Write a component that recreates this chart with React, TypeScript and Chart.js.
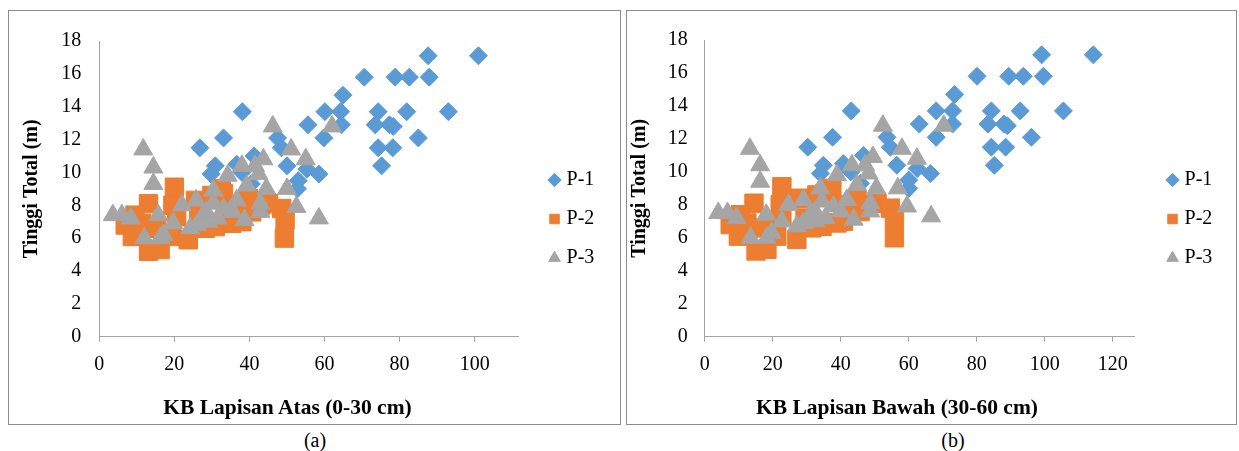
import React, { useEffect, useRef } from 'react';
import { Chart, registerables } from 'chart.js';

Chart.register(...registerables);

type Pt = [number, number];

// ---- data -----------------------------------------------------------
const SERIES_LABELS = ['P-1', 'P-2', 'P-3'];
const Y_TITLE = 'Tinggi Total (m)';
const X_TITLE_A = 'KB Lapisan Atas (0-30 cm)';
const X_TITLE_B = 'KB Lapisan Bawah (30-60 cm)';
const CAPTION_A = '(a)';
const CAPTION_B = '(b)';
const Y_MIN = 0;
const Y_MAX = 18;
const Y_STEP = 2;
const X_STEP = 20;
const XA_MAX = 111.6;
const XB_MAX = 126.5;

// Panel (a): KB Lapisan Atas vs Tinggi Total
const p1A: Pt[] = [
  [101.0, 17.1], [87.6, 17.1],
  [70.6, 15.8], [78.8, 15.8], [82.6, 15.8], [87.9, 15.8],
  [64.9, 14.7],
  [38.1, 13.7], [60.1, 13.7], [64.3, 13.7], [74.3, 13.7], [81.9, 13.7], [93.0, 13.7],
  [55.6, 12.9], [64.5, 12.9], [73.5, 12.9], [77.3, 12.9], [78.3, 12.8],
  [33.1, 12.1], [47.5, 12.1], [59.8, 12.1], [85.0, 12.1],
  [26.8, 11.5], [48.5, 11.5], [74.3, 11.5], [78.2, 11.5],
  [41.2, 11.0],
  [30.9, 10.4], [36.6, 10.5], [50.0, 10.4], [75.2, 10.4], [55.3, 10.2],
  [29.8, 9.9], [58.5, 9.9], [38.0, 10.0],
  [53.0, 9.5], [52.8, 9.0], [40.5, 9.3],
];
const p2A: Pt[] = [
  [20.0, 9.1], [13.1, 8.1], [19.6, 8.0], [6.9, 6.8], [8.8, 6.1], [13.1, 5.2],
  [16.2, 5.3], [23.7, 5.9], [19.3, 6.1], [30.0, 8.6], [33.1, 8.7], [35.3, 6.9],
  [30.9, 6.7], [45.1, 8.1], [48.6, 7.8], [49.5, 7.1], [49.3, 6.0], [25.6, 8.3],
  [11.3, 6.9], [15.3, 6.6], [20.6, 7.3], [28.2, 6.6], [39.7, 8.4], [40.6, 7.6],
  [38.0, 7.0], [32.5, 9.0], [9.5, 7.4], [26.5, 7.2], [43.0, 8.0], [36.5, 8.0],
];
const p3A: Pt[] = [
  [11.7, 11.4], [14.4, 10.3], [14.4, 9.3], [3.6, 7.4], [6.0, 7.4], [8.4, 7.2],
  [15.7, 7.4], [12.0, 6.0], [16.2, 6.0], [17.1, 6.2], [19.7, 6.9], [22.0, 8.0],
  [25.8, 8.3], [24.2, 6.6], [26.0, 6.8], [30.4, 8.9], [30.4, 8.1], [27.7, 7.4],
  [29.0, 7.0], [33.1, 7.8], [34.2, 9.8], [38.0, 10.4], [36.6, 8.3], [38.7, 7.1],
  [39.3, 9.2], [41.5, 10.4], [43.7, 10.8], [42.4, 9.9], [42.9, 7.6], [42.9, 8.1],
  [44.5, 9.0], [46.2, 12.8], [51.1, 11.4], [55.0, 10.8], [50.0, 9.0], [52.5, 7.9],
  [58.5, 7.2], [62.0, 12.8], [28.5, 7.6], [35.5, 7.6], [31.5, 7.2],
];

// Panel (b): KB Lapisan Bawah vs Tinggi Total
const p1B: Pt[] = [
  [114.3, 17.1], [99.1, 17.1],
  [80.1, 15.8], [89.4, 15.8], [93.7, 15.8], [99.6, 15.8],
  [73.5, 14.7],
  [43.1, 13.7], [68.1, 13.7], [72.9, 13.7], [84.3, 13.7], [92.8, 13.7], [105.5, 13.7],
  [63.1, 12.9], [72.9, 12.9], [83.3, 12.9], [88.0, 12.9], [89.0, 12.8],
  [37.6, 12.1], [53.6, 12.1], [68.1, 12.1], [96.1, 12.1],
  [30.3, 11.5], [54.6, 11.5], [84.3, 11.5], [88.5, 11.5],
  [46.7, 11.0],
  [34.9, 10.4], [40.8, 10.5], [56.5, 10.4], [85.2, 10.4], [62.5, 10.2],
  [34.0, 9.9], [66.4, 9.9], [43.0, 10.0],
  [60.0, 9.5], [60.0, 9.0], [45.8, 9.3],
];
const p2B: Pt[] = [
  [22.7, 9.1], [14.5, 8.1], [22.2, 8.0], [7.5, 6.8], [9.9, 6.1], [15.1, 5.2],
  [18.3, 5.3], [27.1, 5.9], [21.2, 6.1], [33.0, 8.6], [35.4, 8.7], [38.9, 6.9],
  [34.5, 6.7], [50.7, 8.1], [54.6, 7.8], [55.8, 7.1], [55.8, 6.0], [28.1, 8.4],
  [12.4, 6.9], [17.3, 6.6], [22.7, 7.3], [31.5, 6.6], [44.8, 8.3], [45.7, 7.6],
  [40.8, 7.0], [37.4, 9.0], [10.5, 7.4], [29.5, 7.2], [48.0, 8.0], [41.0, 8.0],
];
const p3B: Pt[] = [
  [13.3, 11.4], [16.3, 10.4], [16.3, 9.4], [4.0, 7.5], [6.7, 7.5], [9.4, 7.2],
  [18.1, 7.4], [13.5, 6.0], [18.3, 6.0], [19.7, 6.3], [22.7, 7.0], [24.6, 8.0],
  [29.0, 8.3], [27.1, 6.7], [29.0, 6.9], [34.0, 9.0], [34.5, 8.2], [31.0, 7.4],
  [32.5, 7.0], [37.9, 7.9], [38.9, 9.8], [43.3, 10.4], [41.8, 8.3], [43.8, 7.1],
  [44.8, 9.2], [47.2, 10.4], [49.5, 10.9], [48.2, 9.9], [48.7, 7.6], [48.7, 8.1],
  [50.5, 9.0], [52.4, 12.8], [58.0, 11.4], [62.4, 10.8], [56.8, 9.0], [59.5, 7.9],
  [66.6, 7.3], [70.3, 12.8], [32.5, 7.6], [40.0, 7.6], [35.5, 7.2],
];

// ---- styles ---------------------------------------------------------
const FONT = "'Liberation Serif', 'Times New Roman', serif";
const SERIES_COLORS = ['#5B9BD5', '#ED7D31', '#A5A5A5'];
const SERIES_STYLES = ['rectRot', 'rect', 'triangle'];
const SERIES_RADII = [9, 13, 11];
const AXIS_COLOR = '#a3a3a3';
const FRAME_COLOR = '#8c8c8c';

interface PanelCfg {
  series: Pt[][];
  xMax: number;
  width: number;
  height: number;
  padL: number;
  padR: number;
  padT: number;
  padB: number;
  yWidth: number;
  yTickPad: number;
  yTitlePad: number;
  xHeight: number;
  dummyW: number;
}

function buildChart(canvas: HTMLCanvasElement, cfg: PanelCfg) {
  const f = (size: number, weight: any = 'normal') => ({ family: FONT, size, weight });
  return new Chart(canvas, {
    type: 'scatter',
    data: {
      datasets: cfg.series.map((pts, i) => ({
        label: SERIES_LABELS[i],
        data: pts.map(([x, y]) => ({ x, y })),
        pointStyle: SERIES_STYLES[i] as any,
        pointRadius: SERIES_RADII[i],
        pointHoverRadius: SERIES_RADII[i],
        backgroundColor: SERIES_COLORS[i],
        borderColor: SERIES_COLORS[i],
        borderWidth: 1,
        order: 3 - i,
        xAxisID: 'x',
        yAxisID: 'y',
      })),
    },
    options: {
      responsive: false,
      animation: false,
      devicePixelRatio: 1,
      events: [],
      layout: { padding: { left: cfg.padL, right: cfg.padR, top: cfg.padT, bottom: cfg.padB } },
      plugins: {
        tooltip: { enabled: false },
        legend: {
          position: 'right',
          align: 'center',
          labels: {
            usePointStyle: true,
            boxWidth: 4,
            boxHeight: 9.5,
            padding: 19,
            color: '#000',
            font: f(20),
            sort: (a: any, b: any) => a.datasetIndex - b.datasetIndex,
          },
        },
      },
      scales: {
        x: {
          type: 'linear',
          position: 'bottom',
          min: 0,
          max: cfg.xMax,
          afterFit: (s: any) => { s.height = cfg.xHeight; },
          grid: { display: true, drawOnChartArea: false, drawTicks: true, tickLength: 5, color: AXIS_COLOR, lineWidth: 1 },
          border: { display: true, color: AXIS_COLOR, width: 1 },
          ticks: { stepSize: X_STEP, includeBounds: false, padding: 11, color: '#000', font: f(20), maxRotation: 0 },
          title: { display: false },
        },
        y: {
          type: 'linear',
          position: 'left',
          min: Y_MIN,
          max: Y_MAX,
          afterFit: (s: any) => { s.width = cfg.yWidth; },
          grid: { display: false, drawTicks: false },
          border: { display: true, color: AXIS_COLOR, width: 1 },
          ticks: { stepSize: Y_STEP, padding: cfg.yTickPad, color: '#000', font: f(20) },
          title: {
            display: true,
            text: Y_TITLE,
            color: '#000',
            font: f(20, 'bold'),
            padding: { top: cfg.yTitlePad, bottom: 0 },
          },
        },
        spacer: {
          type: 'linear',
          axis: 'y',
          position: 'right',
          display: true,
          afterFit: (s: any) => { s.width = cfg.dummyW; },
          grid: { display: false, drawTicks: false },
          border: { display: false },
          ticks: { display: false },
          title: { display: false },
        },
      },
    } as any,
  });
}

const CFG_A: PanelCfg = {
  series: [p1A, p2A, p3A],
  xMax: XA_MAX,
  width: 611,
  height: 413,
  padL: 7,
  padR: 15.7,
  padT: 25.7,
  padB: 22.7,
  yWidth: 83.3,
  yTickPad: 18,
  yTitlePad: 4,
  xHeight: 64.6,
  dummyW: 15.3,
};

const CFG_B: PanelCfg = {
  series: [p1B, p2B, p3B],
  xMax: XB_MAX,
  width: 608,
  height: 413,
  padL: 1,
  padR: 12.7,
  padT: 25.7,
  padB: 22.7,
  yWidth: 76.7,
  yTickPad: 17,
  yTitlePad: 0,
  xHeight: 64.6,
  dummyW: 16.7,
};

function Panel({ cfg, left, top }: { cfg: PanelCfg; left: number; top: number }) {
  const ref = useRef<HTMLCanvasElement>(null);
  useEffect(() => {
    if (!ref.current) return;
    const chart = buildChart(ref.current, cfg);
    return () => chart.destroy();
  }, [cfg]);
  return (
    <canvas
      ref={ref}
      width={cfg.width}
      height={cfg.height}
      style={{ position: 'absolute', left, top, width: cfg.width, height: cfg.height }}
    />
  );
}

function Label({ text, cx, cy, size, bold }: { text: string; cx: number; cy: number; size: number; bold?: boolean }) {
  return (
    <div
      style={{
        position: 'absolute',
        left: cx,
        top: cy,
        transform: 'translate(-50%, -50%)',
        whiteSpace: 'nowrap',
        lineHeight: 1,
        fontFamily: FONT,
        fontSize: size,
        fontWeight: bold ? 'bold' : 'normal',
        color: '#000',
      }}
    >
      {text}
    </div>
  );
}

export default function App() {
  return (
    <div style={{ position: 'absolute', left: 0, top: 0, width: 1239, height: 451, background: '#fff', overflow: 'hidden' }}>
      <div style={{ position: 'absolute', left: 8, top: 10, width: 613, height: 415, border: `1px solid ${FRAME_COLOR}`, boxSizing: 'border-box' }} />
      <div style={{ position: 'absolute', left: 626, top: 10, width: 611, height: 415, border: `1px solid ${FRAME_COLOR}`, boxSizing: 'border-box' }} />
      <Panel cfg={CFG_A} left={9} top={11} />
      <Panel cfg={CFG_B} left={627} top={11} />
      <Label text={X_TITLE_A} cx={287.5} cy={408} size={21.5} bold />
      <Label text={X_TITLE_B} cx={897} cy={408} size={21.5} bold />
      <Label text={CAPTION_A} cx={315} cy={440} size={20} />
      <Label text={CAPTION_B} cx={953} cy={440} size={20} />
    </div>
  );
}
